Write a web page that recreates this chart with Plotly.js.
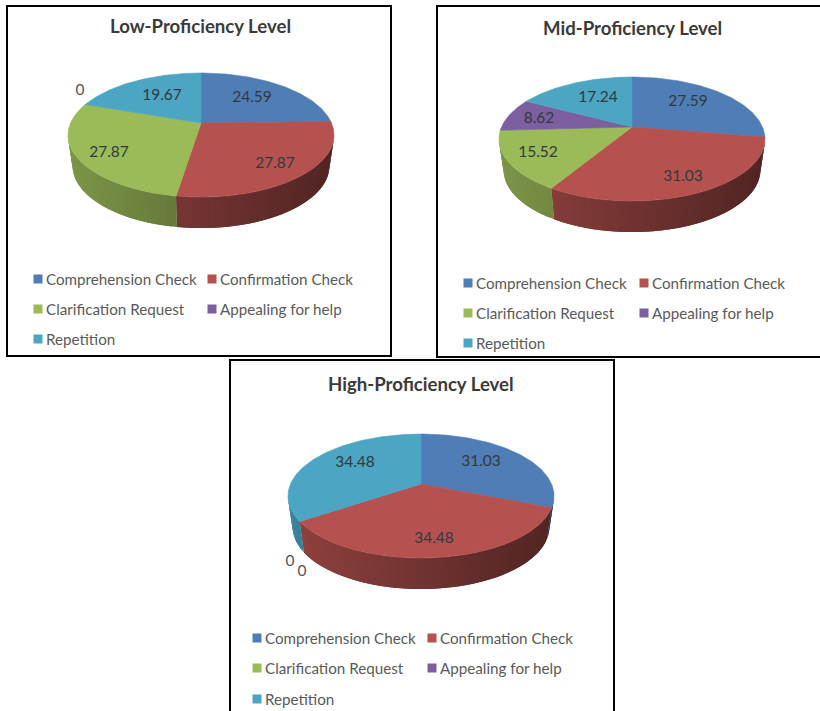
<!DOCTYPE html>
<html>
<head>
<meta charset="utf-8">
<script src="https://cdn.plot.ly/plotly-3.0.1.min.js"></script>
<style>html,body{margin:0;padding:0;background:#fff;overflow:hidden}#chart{width:820px;height:711px}</style>
</head>
<body>
<div id="chart"></div>
<script>
// Communication-strategy shares by proficiency level
const categories = ['Comprehension Check', 'Confirmation Check', 'Clarification Request', 'Appealing for help', 'Repetition'];
const lowValues = [24.59, 27.87, 27.87, 0, 19.67];
const midValues = [27.59, 31.03, 15.52, 8.62, 17.24];
const highValues = [31.03, 34.48, 0, 0, 34.48];
const sliceColors = ['#4F7DB6', '#B5524F', '#9BBB59', '#7C5F9F', '#4BA5C3'];

// Panel layout in page pixels: pie apex, title, legend origin and value-label anchors
const panels = [
  {title: 'Low-Proficiency Level', values: lowValues, cx: 201, cy: 123, titleX: 200, titleY: 26,
   swatchX: [38, 212], legendY: [279, 309, 339],
   labelX: [252, 275, 109, 80, 162], labelY: [98, 164, 153, 91, 96]},
  {title: 'Mid-Proficiency Level', values: midValues, cx: 632, cy: 127, titleX: 632, titleY: 28,
   swatchX: [468, 644], legendY: [283, 313, 343],
   labelX: [688, 683, 538, 539, 598], labelY: [102, 177, 153, 119, 98]},
  {title: 'High-Proficiency Level', values: highValues, cx: 421, cy: 484, titleX: 421, titleY: 384,
   swatchX: [257, 432], legendY: [638, 668, 699],
   labelX: [481, 434, 302, 290, 355], labelY: [462, 539, 572, 562, 463]}
];

// Perspective disc: far rim is foreshortened, near rim is stretched, base rim is a little narrower
const RX = 130.5, RY = 59.7, TILT = 0.194, DEPTH = 31, BASE_SCALE = 0.965;
const FONT = 'Lato, "Open Sans", sans-serif';

// Angles between which the side wall faces the viewer
const WALL_FROM = Math.acos(-TILT) * 180 / Math.PI, WALL_TO = 360 - WALL_FROM;

function rim(p, deg) {
  const a = deg * Math.PI / 180, u = Math.sin(a), v = Math.cos(a), w = 1 + TILT * v;
  return [p.cx + RX * u / w, p.cy - RY * v / w];
}

function baseX(p, x) {
  return p.cx + (x - p.cx) * BASE_SCALE;
}

function shade(hex, f) {
  const n = parseInt(hex.slice(1), 16);
  const c = [n >> 16, (n >> 8) & 255, n & 255].map(x => Math.round(x * f));
  return `rgb(${c[0]},${c[1]},${c[2]})`;
}

function polygon(xs, ys, color, lineWidth) {
  return {x: xs, y: ys, mode: 'lines', fill: 'toself', fillcolor: color,
          line: {color: color, width: lineWidth}, hoverinfo: 'skip', showlegend: false};
}

const wallTraces = [], faceTraces = [], textTraces = [];
const STEP = 2;

panels.forEach(p => {
  const total = p.values.reduce((s, x) => s + x, 0);
  let start = 0;
  p.values.forEach((val, i) => {
    if (val > 0) {
      const from = start / total * 360, to = (start + val) / total * 360;

      // Side wall: strips overlap the next one and darken from left to right
      const wallEnd = Math.min(to, WALL_TO);
      for (let d = Math.max(from, WALL_FROM); d < wallEnd; d += STEP) {
        const e = Math.min(d + STEP * 2, wallEnd);
        const a = rim(p, d), b = rim(p, e);
        const t = (a[0] - (p.cx - 133)) / 266;
        wallTraces.push(polygon([a[0], b[0], baseX(p, b[0]), baseX(p, a[0]), a[0]],
                                [a[1], b[1], b[1] + DEPTH, a[1] + DEPTH, a[1]],
                                shade(sliceColors[i], 0.8 - 0.35 * t), 0));
      }

      // Top face of the slice
      const xs = [p.cx], ys = [p.cy];
      for (let d = from; d < to; d += 1) {
        const q = rim(p, d);
        xs.push(q[0]); ys.push(q[1]);
      }
      const q = rim(p, to);
      xs.push(q[0], p.cx); ys.push(q[1], p.cy);
      faceTraces.push(polygon(xs, ys, sliceColors[i], 0.6));
    }
    start += val;
  });

  // Value labels
  textTraces.push({
    x: p.labelX, y: p.labelY, mode: 'text', text: p.values.map(String),
    textposition: 'middle center', hoverinfo: 'skip', showlegend: false,
    textfont: {family: FONT, size: 15.5, color: p.values.map(v => v === 0 ? '#555555' : '#2F3A40')}
  });

  // Key: swatches and category names, two columns then a last row
  const col = [0, 1, 0, 1, 0], row = [0, 0, 1, 1, 2];
  const keyX = col.map(c => p.swatchX[c]), keyY = row.map(r => p.legendY[r]);
  textTraces.push({
    x: keyX, y: keyY, mode: 'markers',
    marker: {symbol: 'square', size: 9, color: sliceColors},
    hoverinfo: 'skip', showlegend: false
  });
  textTraces.push({
    x: keyX.map(x => x + 8), y: keyY.map(y => y + 2), mode: 'text', text: categories,
    textposition: 'middle right',
    textfont: {family: FONT, size: 15.2, color: '#5A5A5A'},
    hoverinfo: 'skip', showlegend: false
  });
});

const titles = panels.map(p => ({
  text: '<b>' + p.title + '</b>', x: p.titleX, y: p.titleY, xref: 'x', yref: 'y',
  showarrow: false, font: {family: FONT, size: 18.6, color: '#3A3A3A'}
}));

// Black frames around the three panels
const frameLine = {color: '#000000', width: 2};
const frames = [[7, 6, 391, 356], [437, 6, 822, 357], [230, 360, 614, 720]].map(f => ({
  type: 'rect', xref: 'x', yref: 'y', x0: f[0], y0: f[1], x1: f[2], y1: f[3], line: frameLine
}));

const hidden = {visible: false, fixedrange: true};
Plotly.newPlot('chart', wallTraces.concat(faceTraces, textTraces), {
  width: 820, height: 711, margin: {l: 0, r: 0, t: 0, b: 0},
  paper_bgcolor: '#ffffff', plot_bgcolor: '#ffffff', showlegend: false,
  xaxis: Object.assign({range: [0, 820]}, hidden),
  yaxis: Object.assign({range: [711, 0]}, hidden),
  shapes: frames, annotations: titles
}, {displayModeBar: false, staticPlot: true});
</script>
</body>
</html>
